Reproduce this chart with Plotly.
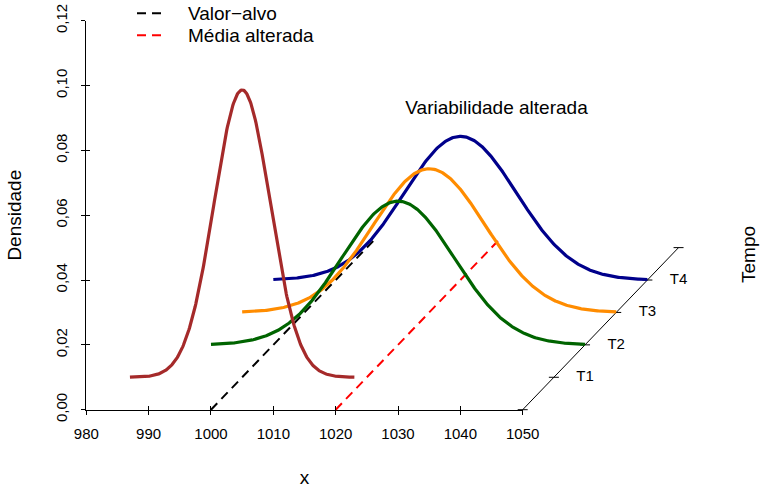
import numpy as np
import plotly.graph_objects as go

# ---------------- data ----------------
x_ticks = [980, 990, 1000, 1010, 1020, 1030, 1040, 1050]
y_ticks = [0.00, 0.02, 0.04, 0.06, 0.08, 0.10, 0.12]
time_labels = ["T1", "T2", "T3", "T4"]
curve_means = [1000, 1020, 1020, 1020]      # mean of each period's distribution
curve_sds = [4.5, 9, 9, 9]                  # standard deviation of each period
curve_lo = [982, 990, 990, 990]             # drawn support (before depth shift)
curve_hi = [1018, 1050, 1050, 1050]
curve_colors = ["#A52A2A", "#006400", "#FF8C00", "#00008B"]
step_dx = 5          # depth shift per period along x
step_dy = 0.01       # depth shift per period along y
n_steps = 5
target_value = 1000  # Valor-alvo
altered_mean = 1020  # Média alterada
dash_depth = 5.25
legend_names = ["Valor\u2212alvo", "Média alterada"]
legend_colors = ["black", "red"]
note_text = "Variabilidade alterada"
note_pos = (1045.8, 0.0926)

# ---------------- layout geometry (pixels) ----------------
W, H = 761, 488
px_x0, px_x1 = 86.3, 522.7     # pixel of x=980 and x=1050
px_y0, px_y1 = 409.7, 20.7     # pixel of y=0 and y=0.12
xr = (x_ticks[0], x_ticks[-1])
yr = (y_ticks[0], y_ticks[-1])
ux = (px_x1 - px_x0) / (xr[1] - xr[0])
uy = (px_y0 - px_y1) / (yr[1] - yr[0])
full_x = [xr[0] - px_x0 / ux, xr[0] + (W - px_x0) / ux]
full_y = [yr[0] - (H - px_y0) / uy, yr[0] + px_y0 / uy]

FONT = "Liberation Sans, Arial, Helvetica, sans-serif"
TXT = 19
DASH = "9px,6px"
fig = go.Figure()

# dashed reference lines
for val, col, name in zip([target_value, altered_mean], legend_colors, legend_names):
    fig.add_trace(go.Scatter(
        x=[val, val + dash_depth * step_dx], y=[0, dash_depth * step_dy],
        mode="lines", line=dict(color=col, width=2, dash=DASH),
        name=name, showlegend=False, xaxis="x2", yaxis="y2"))

# depth (time) axis
base_x = x_ticks[-1]
dx_line = [base_x, base_x + n_steps * step_dx]
dy_line = [0, n_steps * step_dy]
fig.add_trace(go.Scatter(x=dx_line, y=dy_line, mode="lines",
                         line=dict(color="black", width=1), showlegend=False,
                         xaxis="x2", yaxis="y2", hoverinfo="skip"))
tx, ty = [], []
half = 5 / ux
for k in range(n_steps + 1):
    cx, cy = base_x + k * step_dx, k * step_dy
    tx += [cx - half, cx + half, None]
    ty += [cy, cy, None]
fig.add_trace(go.Scatter(x=tx, y=ty, mode="lines",
                         line=dict(color="black", width=1), showlegend=False,
                         xaxis="x2", yaxis="y2", hoverinfo="skip"))
fig.add_trace(go.Scatter(
    x=[base_x + (k + 1) * step_dx + step_dx for k in range(len(time_labels))],
    y=[(k + 1) * step_dy for k in range(len(time_labels))],
    mode="text", text=time_labels, textposition="middle center",
    textfont=dict(family=FONT, size=15, color="black"),
    showlegend=False, xaxis="x2", yaxis="y2", hoverinfo="skip"))

# density curves (drawn back to front)
for i in reversed(range(len(curve_means))):
    k = i + 1
    xs = np.linspace(curve_lo[i], curve_hi[i], 400)
    dens = np.exp(-0.5 * ((xs - curve_means[i]) / curve_sds[i]) ** 2) / (curve_sds[i] * np.sqrt(2 * np.pi))
    fig.add_trace(go.Scatter(
        x=xs + k * step_dx, y=dens + k * step_dy, mode="lines",
        line=dict(color=curve_colors[i], width=3.2), showlegend=False,
        xaxis="x2", yaxis="y2"))

# note text
fig.add_trace(go.Scatter(x=[note_pos[0]], y=[note_pos[1]], mode="text",
                         text=[note_text], textposition="middle center",
                         textfont=dict(family=FONT, size=TXT, color="black"),
                         showlegend=False, xaxis="x2", yaxis="y2", hoverinfo="skip"))

# empty traces to activate overlay tick axes
fig.add_trace(go.Scatter(x=[], y=[], xaxis="x3", yaxis="y", showlegend=False))
fig.add_trace(go.Scatter(x=[], y=[], xaxis="x", yaxis="y3", showlegend=False))

dom_x = [px_x0 / W, px_x1 / W]
dom_y = [(H - px_y0) / H, (H - px_y1) / H]
tickfont = dict(family=FONT, size=15, color="black")

# manual legend (R-style, top left)
shapes, annots = [], []
leg_y = [13.3, 35.3]
for name, col, yy in zip(legend_names, legend_colors, leg_y):
    shapes.append(dict(type="line", xref="paper", yref="paper",
                       x0=137 / W, x1=162 / W, y0=1 - yy / H, y1=1 - yy / H,
                       line=dict(color=col, width=2, dash=DASH)))
    annots.append(dict(text=name, xref="paper", yref="paper", x=186 / W, y=1 - yy / H,
                       xanchor="left", yanchor="middle", showarrow=False,
                       font=dict(family=FONT, size=TXT, color="black")))
annots.append(dict(text="Tempo", x=748 / W, y=1 - 255 / H, xref="paper", yref="paper",
                   xanchor="center", yanchor="middle",
                   showarrow=False, textangle=-90,
                   font=dict(family=FONT, size=TXT, color="black")))

fig.update_layout(
    template="none",
    width=W, height=H, margin=dict(l=0, r=0, t=0, b=0, pad=0, autoexpand=False),
    paper_bgcolor="white", plot_bgcolor="rgba(0,0,0,0)",
    separators=",.", showlegend=False,
    font=dict(family=FONT, size=TXT, color="black"),
    xaxis=dict(domain=dom_x, range=list(xr), tickvals=x_ticks, ticks="outside",
               ticklen=4, tickcolor="black", tickwidth=1, showline=True,
               linecolor="black", linewidth=1, showgrid=False, zeroline=False,
               tickfont=tickfont, anchor="y", ticklabelstandoff=6, automargin=False,
               title=dict(text="x", font=dict(family=FONT, size=TXT), standoff=30)),
    yaxis=dict(domain=dom_y, range=list(yr), tickvals=y_ticks, tickformat=".2f",
               ticks="outside", ticklen=4, tickcolor="black", tickwidth=1,
               showline=True, linecolor="black", linewidth=1, showgrid=False,
               zeroline=False, tickfont=tickfont, tickangle=-90, anchor="x",
               ticklabelstandoff=8, automargin=False,
               title=dict(text="Densidade", font=dict(family=FONT, size=TXT), standoff=26)),
    xaxis3=dict(overlaying="x", range=list(xr), tickvals=x_ticks, ticks="inside",
                ticklen=4, tickcolor="black", showticklabels=False, showgrid=False,
                zeroline=False, showline=False, anchor="y", automargin=False),
    yaxis3=dict(overlaying="y", range=list(yr), tickvals=y_ticks, ticks="inside",
                ticklen=4, tickcolor="black", showticklabels=False, showgrid=False,
                zeroline=False, showline=False, anchor="x", automargin=False),
    xaxis2=dict(domain=[0, 1], range=full_x, visible=False, anchor="y2", automargin=False),
    yaxis2=dict(domain=[0, 1], range=full_y, visible=False, anchor="x2", automargin=False),
    shapes=shapes,
    annotations=annots,
)

fig.write_html("out.html")
